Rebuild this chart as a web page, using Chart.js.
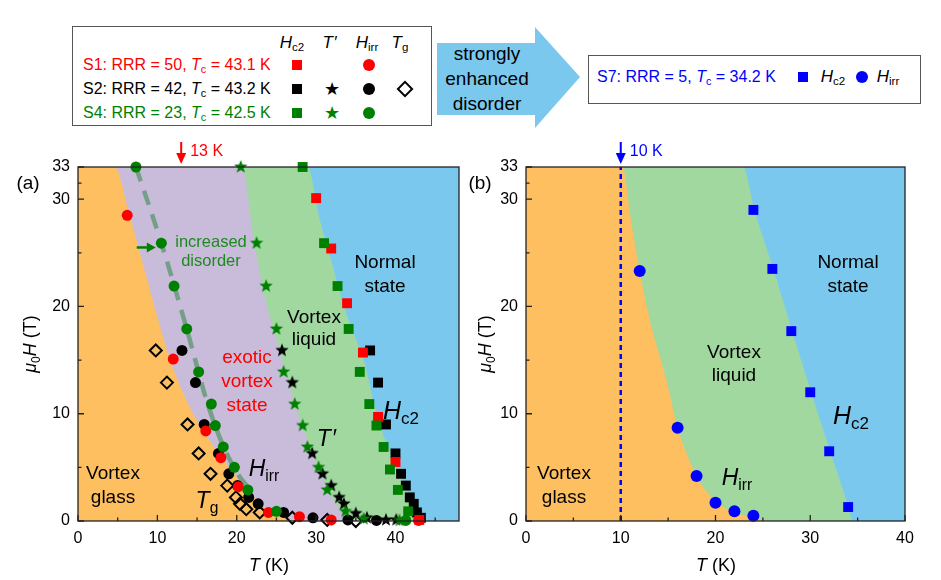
<!DOCTYPE html>
<html>
<head>
<meta charset="utf-8">
<script src="https://cdn.jsdelivr.net/npm/chart.js@4.4.0/dist/chart.umd.min.js"></script>
<style>
  body { margin: 0; background: #fff; font-family: 'Liberation Sans', Arial, sans-serif; }
  #page { position: relative; width: 941px; height: 580px; overflow: hidden; }
  canvas { position: absolute; }
  .t { position: absolute; transform: translate(-50%, -50%); white-space: nowrap; text-align: center; z-index: 5; line-height: 24px; font-size: 19px; }
  .l { position: absolute; transform: translateY(-50%); white-space: nowrap; z-index: 5; font-size: 16px; }
  i { font-style: italic; }
  sub { font-size: 68%; vertical-align: -0.3em; font-style: normal; line-height: 0; }
  .box { position: absolute; border: 1.5px solid #555; background: #fff; z-index: 4; }
  .sq { position: absolute; width: 10px; height: 10px; transform: translate(-50%, -50%); z-index: 5; }
  .ci { position: absolute; width: 12px; height: 12px; border-radius: 50%; transform: translate(-50%, -50%); z-index: 5; }
  .di { position: absolute; width: 8px; height: 8px; border: 2px solid #000; transform: translate(-50%, -50%) rotate(45deg); z-index: 5; }
  .st { position: absolute; transform: translate(-50%, -52%); font-size: 18px; z-index: 5; }
  #arrow { position: absolute; left: 437px; top: 27px; width: 143px; height: 101px; background: #7BC8EE;
           clip-path: polygon(0 16px, 98px 16px, 98px 0, 143px 50px, 98px 101px, 98px 88px, 0 88px); z-index: 3; }
</style>
</head>
<body>
<div id="page">
  <canvas id="chartA" width="500" height="440" style="left:0;top:140px"></canvas>
  <canvas id="chartB" width="471" height="440" style="left:470px;top:140px"></canvas>

  <!-- legend S1/S2/S4 -->
  <div class="box" style="left:72px;top:26px;width:358px;height:98px"></div>
  <div class="t" style="left:292px;top:43px;font-size:17px"><i>H</i><sub>c2</sub></div>
  <div class="t" style="left:330px;top:43px;font-size:17px"><i>T</i>&#8202;&#8242;</div>
  <div class="t" style="left:367px;top:43px;font-size:17px"><i>H</i><sub>irr</sub></div>
  <div class="t" style="left:400px;top:43px;font-size:17px"><i>T</i><sub>g</sub></div>
  <div class="l" style="left:83px;top:65px;color:#f00">S1: RRR = 50, <i>T</i><sub>c</sub> = 43.1 K</div>
  <div class="l" style="left:83px;top:89px;color:#000">S2: RRR = 42, <i>T</i><sub>c</sub> = 43.2 K</div>
  <div class="l" style="left:83px;top:113px;color:#008000">S4: RRR = 23, <i>T</i><sub>c</sub> = 42.5 K</div>
  <div class="sq" style="left:297px;top:65px;background:#f00"></div>
  <div class="ci" style="left:369px;top:65px;background:#f00"></div>
  <div class="sq" style="left:297px;top:89px;background:#000"></div>
  <div class="st" style="left:332px;top:89px;color:#000">&#9733;</div>
  <div class="ci" style="left:369px;top:89px;background:#000"></div>
  <div class="di" style="left:405px;top:89px"></div>
  <div class="sq" style="left:297px;top:113px;background:#008000"></div>
  <div class="st" style="left:332px;top:113px;color:#008000">&#9733;</div>
  <div class="ci" style="left:369px;top:113px;background:#008000"></div>

  <!-- arrow -->
  <div id="arrow"></div>
  <div class="t" style="left:487px;top:78px;line-height:25px;font-size:19px">strongly<br>enhanced<br>disorder</div>

  <!-- legend S7 -->
  <div class="box" style="left:588px;top:55px;width:331px;height:47px"></div>
  <div class="l" style="left:597px;top:77px;color:#00f">S7: RRR = 5, <i>T</i><sub>c</sub> = 34.2 K</div>
  <div class="sq" style="left:803px;top:77px;background:#00f"></div>
  <div class="t" style="left:833px;top:77px;font-size:17px"><i>H</i><sub>c2</sub></div>
  <div class="ci" style="left:862px;top:77px;background:#00f"></div>
  <div class="t" style="left:888px;top:77px;font-size:17px"><i>H</i><sub>irr</sub></div>

  <!-- panel (a) labels -->
  <div class="t" style="left:28px;top:183px;font-size:19px">(a)</div>
  <div class="t" style="left:30px;top:344px;font-size:18px;transform:translate(-50%,-50%) rotate(-90deg)"><i>&mu;</i><sub>0</sub><i>H</i> (T)</div>
  <div class="t" style="left:269px;top:565px;font-size:18px"><i>T</i> (K)</div>
  <div class="t" style="left:113px;top:485px">Vortex<br>glass</div>
  <div class="t" style="left:207px;top:500px;font-size:23px"><i>T</i><sub>g</sub></div>
  <div class="t" style="left:264px;top:468px;font-size:23px"><i>H</i><sub>irr</sub></div>
  <div class="t" style="left:247px;top:381px;color:#f00">exotic<br>vortex<br>state</div>
  <div class="t" style="left:314px;top:328px;line-height:22px">Vortex<br>liquid</div>
  <div class="t" style="left:385px;top:274px">Normal<br>state</div>
  <div class="t" style="left:327px;top:438px;font-size:23px"><i>T</i>&#8202;&#8242;</div>
  <div class="t" style="left:401px;top:410px;font-size:25px"><i>H</i><sub>c2</sub></div>
  <div class="t" style="left:211px;top:251px;font-size:16.5px;line-height:19px;color:#1e8a1e">increased<br>disorder</div>

  <!-- panel (b) labels -->
  <div class="t" style="left:480px;top:183px;font-size:19px">(b)</div>
  <div class="t" style="left:485px;top:344px;font-size:18px;transform:translate(-50%,-50%) rotate(-90deg)"><i>&mu;</i><sub>0</sub><i>H</i> (T)</div>
  <div class="t" style="left:716px;top:565px;font-size:18px"><i>T</i> (K)</div>
  <div class="t" style="left:564px;top:485px">Vortex<br>glass</div>
  <div class="t" style="left:734px;top:363px;line-height:23px">Vortex<br>liquid</div>
  <div class="t" style="left:848px;top:274px">Normal<br>state</div>
  <div class="t" style="left:851px;top:415px;font-size:25px"><i>H</i><sub>c2</sub></div>
  <div class="t" style="left:737px;top:477px;font-size:23px"><i>H</i><sub>irr</sub></div>
</div>

<script>
// ---- ticks ----
const tTicksA = [0, 10, 20, 30, 40];
const tTicksB = [0, 10, 20, 30, 40];
const hTicks = [0, 10, 20, 30, 33];
const tMinor = [5, 15, 25, 35, 45];
const hMinor = [5, 15, 25, 31.5];

// ---- panel (a): [T (K), mu0H (T)] ----
const s1Hc2 = [[30.0, 30.1], [31.9, 25.4], [33.9, 20.3], [35.9, 15.7], [37.8, 9.7], [40.0, 5.5], [43.0, 0.1]];
const s2Hc2 = [[36.8, 15.9], [37.8, 12.9], [38.8, 9.0], [40.0, 6.3], [40.7, 4.4], [41.3, 3.3], [41.8, 2.2], [42.3, 1.6], [42.7, 0.8], [43.2, 0.3]];
const s4Hc2 = [[28.3, 33.0], [31.0, 25.9], [32.7, 21.9], [34.1, 17.9], [35.5, 13.9], [36.7, 10.9], [37.6, 8.9], [38.5, 6.9], [39.3, 4.8], [40.3, 2.9], [41.6, 0.9]];
const s2Tprime = [[25.7, 15.9], [27.0, 12.9], [29.5, 6.3], [30.8, 4.4], [31.9, 3.3], [32.9, 2.2], [33.5, 1.6], [35.0, 0.7], [36.4, 0.3], [38.8, 0.1], [40.1, 0.1]];
const s4Tprime = [[20.5, 33.0], [22.5, 25.9], [23.7, 21.9], [25.0, 17.9], [25.9, 13.9], [27.3, 10.9], [28.3, 8.9], [28.9, 6.9], [30.3, 5.0], [31.4, 2.9], [33.7, 0.9], [36.0, 0.2], [40.5, 0.05]];
const s1Hirr = [[6.2, 28.5], [12.0, 15.1], [16.1, 8.4], [18.0, 5.9], [20.2, 3.2], [24.0, 0.8], [27.9, 0.4], [31.9, 0.1], [42.9, 0.05]];
const s2Hirr = [[13.1, 15.9], [14.8, 12.9], [15.9, 9.0], [17.7, 6.3], [19.0, 4.4], [20.1, 3.3], [21.5, 2.2], [22.7, 1.6], [25.9, 0.8], [29.6, 0.3], [34.0, 0.1], [37.6, 0.05]];
const s4Hirr = [[7.3, 33.0], [10.5, 25.9], [12.1, 21.9], [13.7, 17.9], [15.2, 13.9], [16.8, 10.9], [17.3, 8.9], [18.3, 6.9], [19.7, 5.0], [21.4, 2.9], [25.0, 0.9], [41.3, 0.05]];
const s2Tg = [[9.8, 15.9], [11.2, 12.9], [13.8, 9.0], [15.2, 6.3], [16.7, 4.4], [18.8, 3.3], [19.9, 2.2], [20.4, 1.6], [21.2, 1.1], [22.9, 0.8], [27.0, 0.3], [31.4, 0.1], [35.0, 0.0]];
const disorderGuide = [[7.3, 33.0], [10.5, 25.9], [13.7, 17.9], [16.3, 11.0], [18.3, 7.0], [20.3, 4.2], [21.6, 3.0]];

// phase boundaries (a)
const glassEdgeA = [[0, 33], [4.6, 33], [6.5, 28.5], [8.9, 22], [11.3, 15.7], [13.5, 11.5], [15.7, 8.5], [18, 6], [20, 4.1], [22, 2.3], [24, 1.0], [26, 0.3], [27.5, 0]];
const exoticEdgeA = [[0, 33], [20.7, 33], [22, 27], [23.5, 21], [25, 17], [26.5, 13], [28.3, 8.8], [30, 5.5], [31.3, 3.2], [32.5, 1.6], [34, 0.4], [35.5, 0]];
const liquidEdgeA = [[0, 33], [28.9, 33], [30.5, 28], [32, 24], [33.5, 20], [35, 17], [36, 15], [37.6, 10], [39, 7], [40.8, 3.8], [42, 1.8], [43.3, 0]];

// ---- panel (b) ----
const s7Hc2 = [[24, 29.0], [26, 23.5], [28, 17.7], [30, 12.0], [32, 6.5], [34, 1.3]];
const s7Hirr = [[12, 23.3], [16, 8.7], [18, 4.2], [20, 1.7], [22, 0.9], [24, 0.5]];
const glassEdgeB = [[0, 33], [10.2, 33], [11, 28.5], [12, 23.3], [13, 19], [14.2, 15.1], [15, 12.5], [16, 8.7], [17, 6.2], [18, 4.2], [19, 2.8], [20, 1.8], [22, 0.8], [24, 0.3], [25.5, 0]];
const liquidEdgeB = [[0, 33], [22.9, 33], [24.1, 29], [26.1, 23.5], [28.1, 17.7], [30.1, 12], [32.1, 6.5], [33.6, 2.5], [34.4, 0]];
const crossoverB = [[10, 0], [10, 33]];

const RED = '#ff0000', BLACK = '#000000', GREEN = '#008000', BLUE = '#0000ff';
const ORANGE = '#FDBF5F', PURPLE = '#C8BCDA', LGREEN = '#A0D8A0', LBLUE = '#7BC8EE';
const FONT = "'Liberation Sans', Arial, sans-serif";

const P = arr => arr.map(([x, y]) => ({ x, y }));

function starImg(color, r) {
    const c = document.createElement('canvas');
    const s = Math.ceil(2 * r + 2);
    c.width = s; c.height = s;
    const g = c.getContext('2d');
    g.fillStyle = color;
    g.beginPath();
    for (let i = 0; i < 10; i++) {
        const rr = i % 2 ? r * 0.42 : r;
        const a = -Math.PI / 2 + i * Math.PI / 5;
        g.lineTo(s / 2 + rr * Math.cos(a), s / 2 + rr * Math.sin(a));
    }
    g.closePath();
    g.fill();
    return c;
}

function pts(data, style, color, r, order, extra) {
    return Object.assign({
        type: 'scatter', data: P(data), pointStyle: style, pointRadius: r, pointHoverRadius: r,
        backgroundColor: color, borderColor: color, borderWidth: 0, clip: false, order
    }, extra || {});
}

function region(data, color, order) {
    return {
        type: 'line', data: P(data), fill: 'origin', backgroundColor: color, borderColor: 'rgba(0,0,0,0)',
        borderWidth: 0, pointRadius: 0, cubicInterpolationMode: 'monotone', order
    };
}

function arrowDown(ctx, px, top, color, label) {
    ctx.strokeStyle = color; ctx.fillStyle = color; ctx.lineWidth = 2;
    ctx.beginPath(); ctx.moveTo(px, top - 25); ctx.lineTo(px, top - 12); ctx.stroke();
    ctx.beginPath(); ctx.moveTo(px - 5, top - 14); ctx.lineTo(px + 5, top - 14); ctx.lineTo(px, top - 3); ctx.closePath(); ctx.fill();
    ctx.font = '16px ' + FONT; ctx.textBaseline = 'middle'; ctx.textAlign = 'left';
    ctx.fillText(label, px + 9, top - 15);
}

function framePlugin(extra) {
    return {
        id: 'frame',
        beforeDraw(chart) {
            const { ctx, chartArea: a } = chart;
            ctx.save();
            ctx.fillStyle = LBLUE;
            ctx.fillRect(a.left, a.top, a.right - a.left, a.bottom - a.top);
            ctx.restore();
        },
        afterDatasetsDraw(chart) {
            const { ctx, chartArea: a, scales: { x, y } } = chart;
            ctx.save();
            ctx.strokeStyle = '#222'; ctx.lineWidth = 1.3;
            ctx.strokeRect(a.left, a.top, a.right - a.left, a.bottom - a.top);
            ctx.beginPath();
            x.ticks.forEach(t => { const p = x.getPixelForValue(t.value); ctx.moveTo(p, a.bottom); ctx.lineTo(p, a.bottom - 6); });
            tMinor.forEach(v => { if (v < x.max) { const p = x.getPixelForValue(v); ctx.moveTo(p, a.bottom); ctx.lineTo(p, a.bottom - 3.5); } });
            y.ticks.forEach(t => { const p = y.getPixelForValue(t.value); ctx.moveTo(a.left, p); ctx.lineTo(a.left + 6, p); });
            hMinor.forEach(v => { const p = y.getPixelForValue(v); ctx.moveTo(a.left, p); ctx.lineTo(a.left + 3.5, p); });
            ctx.stroke();
            extra(ctx, x, y, a);
            ctx.restore();
        }
    };
}

function makeScales(tMax, tTicks, yWidth) {
    const tickFont = { family: FONT, size: 16 };
    return {
        x: {
            type: 'linear', min: 0, max: tMax,
            afterBuildTicks: s => { s.ticks = tTicks.map(v => ({ value: v })); },
            afterFit: s => { s.height = 59; },
            grid: { display: false, drawTicks: false }, border: { display: false },
            ticks: { padding: 8, color: '#000', font: tickFont }
        },
        y: {
            type: 'linear', min: 0, max: 33,
            afterBuildTicks: s => { s.ticks = hTicks.map(v => ({ value: v })); },
            afterFit: s => { s.width = yWidth; },
            grid: { display: false, drawTicks: false }, border: { display: false },
            ticks: { padding: 8, color: '#000', font: tickFont }
        }
    };
}

const baseOptions = (scales, right) => ({
    responsive: false, animation: false, events: [],
    layout: { padding: { top: 27, right: right, left: 0, bottom: 0 } },
    plugins: { legend: { display: false }, tooltip: { enabled: false } },
    scales
});

const star = c => starImg(c, 7);

// ---- Panel (a) ----
new Chart(document.getElementById('chartA'), {
    type: 'scatter',
    data: {
        datasets: [
            region(liquidEdgeA, LGREEN, 30),
            region(exoticEdgeA, PURPLE, 20),
            region(glassEdgeA, ORANGE, 10),
            {
                type: 'line', data: P(disorderGuide), borderColor: 'rgba(50,135,70,0.55)', borderWidth: 4.5,
                borderDash: [15, 10], pointRadius: 0, fill: false, cubicInterpolationMode: 'monotone', order: 6
            },
            pts(s2Tg, 'rectRot', 'rgba(0,0,0,0)', 6, 5, { borderColor: BLACK, borderWidth: 2 }),
            pts(s2Hc2, 'rect', BLACK, 7, 4),
            pts(s2Tprime, star(BLACK), BLACK, 7, 4),
            pts(s2Hirr, 'circle', BLACK, 5.5, 4),
            pts(s1Hc2, 'rect', RED, 7, 3),
            pts(s1Hirr, 'circle', RED, 5.5, 3),
            pts(s4Hc2, 'rect', GREEN, 7, 2),
            pts(s4Tprime, star(GREEN), GREEN, 7, 2),
            pts(s4Hirr, 'circle', GREEN, 5.5, 2)
        ]
    },
    options: baseOptions(makeScales(48, tTicksA, 78), 41),
    plugins: [framePlugin((ctx, x, y, a) => {
        arrowDown(ctx, x.getPixelForValue(13), a.top, RED, '13 K');
        // increased disorder arrow
        const y0 = y.getPixelForValue(25.5), x0 = x.getPixelForValue(7.4), x1 = x.getPixelForValue(9.8);
        ctx.strokeStyle = GREEN; ctx.fillStyle = GREEN; ctx.lineWidth = 2.5;
        ctx.beginPath(); ctx.moveTo(x0, y0); ctx.lineTo(x1 - 7, y0); ctx.stroke();
        ctx.beginPath(); ctx.moveTo(x1 - 9, y0 - 5); ctx.lineTo(x1, y0); ctx.lineTo(x1 - 9, y0 + 5); ctx.closePath(); ctx.fill();
    })]
});

// ---- Panel (b) ----
new Chart(document.getElementById('chartB'), {
    type: 'scatter',
    data: {
        datasets: [
            region(liquidEdgeB, LGREEN, 30),
            region(glassEdgeB, ORANGE, 10),
            {
                type: 'line', data: P(crossoverB), borderColor: BLUE, borderWidth: 2.5,
                borderDash: [5, 4], pointRadius: 0, fill: false, order: 6
            },
            pts(s7Hc2, 'rect', BLUE, 7, 2),
            pts(s7Hirr, 'circle', BLUE, 6, 2)
        ]
    },
    options: baseOptions(makeScales(40, tTicksB, 56), 36),
    plugins: [framePlugin((ctx, x, y, a) => {
        arrowDown(ctx, x.getPixelForValue(10), a.top, BLUE, '10 K');
    })]
});
</script>
</body>
</html>
